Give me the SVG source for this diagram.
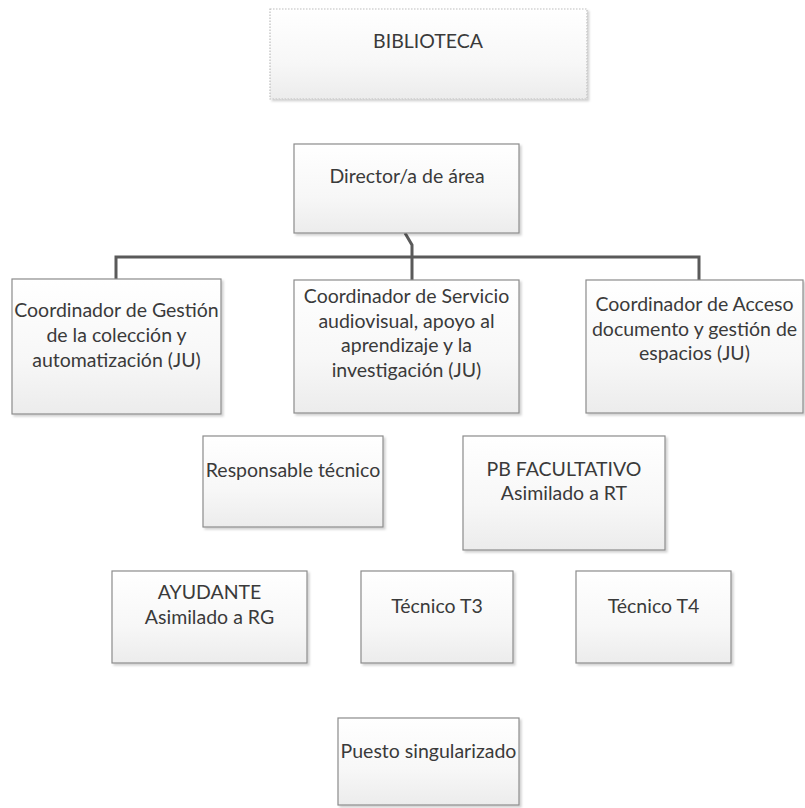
<svg xmlns="http://www.w3.org/2000/svg" width="805" height="808" viewBox="0 0 805 808">
<defs>
<linearGradient id="g" x1="0" y1="0" x2="0" y2="1">
<stop offset="0" stop-color="#ffffff"/>
<stop offset="0.6" stop-color="#f7f7f7"/>
<stop offset="1" stop-color="#ececec"/>
</linearGradient>
<filter id="sh" x="-5%" y="-5%" width="115%" height="120%">
<feDropShadow dx="2" dy="2" stdDeviation="1.2" flood-color="#000" flood-opacity="0.18"/>
</filter>
</defs>
<style>
.box{fill:url(#g);stroke:#8c8c8c;stroke-width:1.2;filter:url(#sh)}
.dot{fill:url(#g);stroke:#bdbdbd;stroke-width:1.2;stroke-dasharray:1.5 1.5;filter:url(#sh)}
text{font-family:Lato,"Liberation Sans",sans-serif;font-size:19.5px;fill:#3a3a3a;text-anchor:middle}
.con{fill:none;stroke:#5a5a5a;stroke-width:3}
</style>
<rect width="805" height="808" fill="#ffffff"/>
<g id="connectors">
<path class="con" d="M116 279 V257 H699 V280"/>
<path class="con" d="M405 233 L412 245 V280"/>
</g>
<g id="biblioteca">
<rect class="dot" x="270" y="9" width="317" height="90"/>
<text x="428" y="48">BIBLIOTECA</text>
</g>
<g id="director">
<rect class="box" x="294" y="144" width="225" height="89"/>
<text x="407" y="183">Director/a de área</text>
</g>
<g id="coord-gestion">
<rect class="box" x="12" y="279" width="209" height="135"/>
<text x="116.5" y="317">Coordinador de Gestión</text>
<text x="116.5" y="342">de la colección y</text>
<text x="116.5" y="367">automatización (JU)</text>
</g>
<g id="coord-servicio">
<rect class="box" x="294" y="280" width="225" height="133"/>
<text x="406.5" y="303">Coordinador de Servicio</text>
<text x="406.5" y="328">audiovisual, apoyo al</text>
<text x="406.5" y="352">aprendizaje y la</text>
<text x="406.5" y="377">investigación (JU)</text>
</g>
<g id="coord-acceso">
<rect class="box" x="586" y="280" width="217" height="133"/>
<text x="694.5" y="311">Coordinador de Acceso</text>
<text x="694.5" y="336">documento y gestión de</text>
<text x="694.5" y="360">espacios (JU)</text>
</g>
<g id="responsable">
<rect class="box" x="203" y="436" width="180" height="91"/>
<text x="293" y="477">Responsable técnico</text>
</g>
<g id="pb-facultativo">
<rect class="box" x="463" y="436" width="202" height="114"/>
<text x="564" y="476">PB FACULTATIVO</text>
<text x="564" y="500">Asimilado a RT</text>
</g>
<g id="ayudante">
<rect class="box" x="112" y="571" width="195" height="92"/>
<text x="209.5" y="599">AYUDANTE</text>
<text x="209.5" y="624">Asimilado a RG</text>
</g>
<g id="tecnico-t3">
<rect class="box" x="361" y="571" width="152" height="92"/>
<text x="437" y="613">Técnico T3</text>
</g>
<g id="tecnico-t4">
<rect class="box" x="576" y="571" width="155" height="92"/>
<text x="653.5" y="613">Técnico T4</text>
</g>
<g id="puesto">
<rect class="box" x="338" y="718" width="181" height="87"/>
<text x="428.5" y="758">Puesto singularizado</text>
</g>
</svg>
